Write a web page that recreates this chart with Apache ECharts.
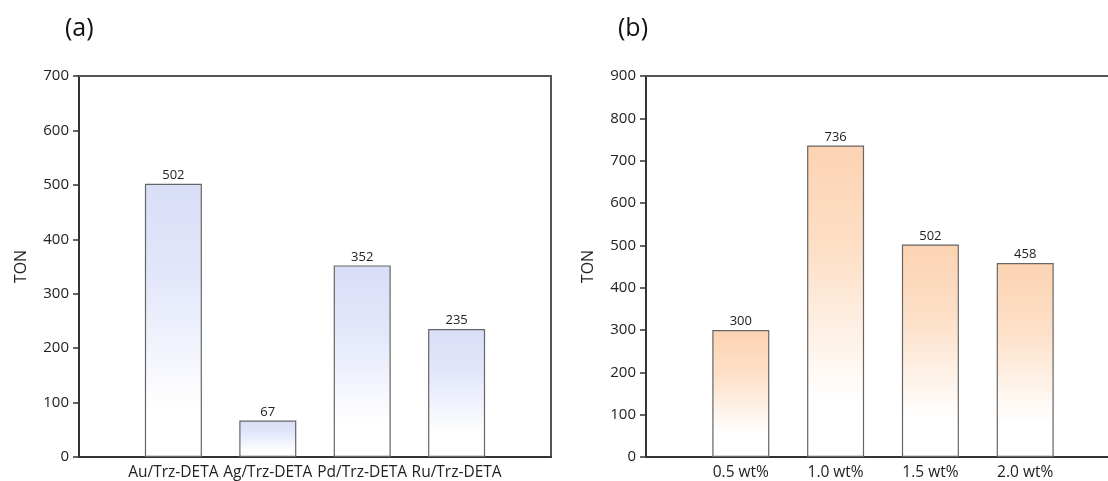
<!DOCTYPE html>
<html>
<head>
<meta charset="utf-8">
<script src="https://cdn.jsdelivr.net/npm/echarts@6/dist/echarts.min.js"></script>
<style>
  html, body { margin: 0; padding: 0; background: #ffffff; overflow: hidden; }
  #chart { width: 1108px; height: 481px; }
</style>
</head>
<body>
<div id="chart"></div>
<script>
// Panel (a): catalysts
const catalysts = ['Au/Trz-DETA', 'Ag/Trz-DETA', 'Pd/Trz-DETA', 'Ru/Trz-DETA'];
const tonCatalysts = [502, 67, 352, 235];

// Panel (b): metal loading
const loadings = ['0.5 wt%', '1.0 wt%', '1.5 wt%', '2.0 wt%'];
const tonLoadings = [300, 736, 502, 458];

// Y-axis ranges
const yAxisA = { min: 0, max: 700, interval: 100 };
const yAxisB = { min: 0, max: 900, interval: 100 };

const FONT = '"Open Sans", "Noto Sans", sans-serif';

const chart = echarts.init(document.getElementById('chart'), null, { renderer: 'canvas' });

function fade(top, mid) {
  return new echarts.graphic.LinearGradient(0, 0, 0, 1, [
    { offset: 0, color: top },
    { offset: 0.35, color: mid },
    { offset: 0.82, color: '#ffffff' },
    { offset: 1, color: '#ffffff' }
  ]);
}

// bars sit at positions 1..n on a 0..n+1 axis
function toPoints(values) {
  return values.map((v, i) => [i + 1, v]);
}

function xAxisFor(gridIndex, names) {
  return {
    gridIndex: gridIndex,
    type: 'value',
    position: 'bottom',
    min: 0,
    max: names.length + 1,
    interval: 1,
    axisLine: { show: true, onZero: false, lineStyle: { color: '#333', width: 2 } },
    axisTick: { show: false },
    splitLine: { show: false },
    axisLabel: {
      margin: 8,
      fontFamily: FONT,
      fontSize: 15.5,
      color: '#222',
      formatter: v => names[v - 1] || ''
    }
  };
}

// frame line along the top of a panel
function topFrame(gridIndex, names) {
  return {
    gridIndex: gridIndex,
    type: 'value',
    position: 'top',
    min: 0,
    max: names.length + 1,
    axisLine: { show: true, onZero: false, lineStyle: { color: '#555', width: 2 } },
    axisTick: { show: false },
    axisLabel: { show: false },
    splitLine: { show: false }
  };
}

function yAxisFor(gridIndex, range) {
  return {
    gridIndex: gridIndex,
    type: 'value',
    position: 'left',
    min: range.min,
    max: range.max,
    interval: range.interval,
    name: 'TON',
    nameLocation: 'middle',
    nameGap: 50,
    nameRotate: 90,
    nameTextStyle: { fontFamily: FONT, fontSize: 16, color: '#222' },
    axisLine: { show: true, onZero: false, lineStyle: { color: '#333', width: 2 } },
    axisTick: { show: true, inside: false, length: 6, lineStyle: { color: '#333', width: 1.5 } },
    splitLine: { show: false },
    axisLabel: { margin: 10, fontFamily: FONT, fontSize: 15, color: '#222' }
  };
}

// frame line along the right side of a panel
function rightFrame(gridIndex, range) {
  return {
    gridIndex: gridIndex,
    type: 'value',
    position: 'right',
    min: range.min,
    max: range.max,
    axisLine: { show: true, onZero: false, lineStyle: { color: '#555', width: 2 } },
    axisTick: { show: false },
    axisLabel: { show: false },
    splitLine: { show: false }
  };
}

function barSeries(index, values, fill) {
  return {
    type: 'bar',
    xAxisIndex: index,
    yAxisIndex: index,
    data: toPoints(values),
    barWidth: 57,
    itemStyle: { color: fill, borderColor: '#666', borderWidth: 1.2 },
    label: {
      show: true,
      position: 'top',
      distance: 2,
      fontFamily: FONT,
      fontSize: 13,
      color: '#222',
      formatter: p => p.value[1]
    },
    emphasis: { disabled: true },
    animation: false
  };
}

chart.setOption({
  animation: false,
  backgroundColor: '#ffffff',
  title: [
    { text: '(a)', left: 60, top: 11, textStyle: { fontFamily: FONT, fontSize: 25, fontWeight: 'normal', color: '#111' } },
    { text: '(b)', left: 613, top: 11, textStyle: { fontFamily: FONT, fontSize: 25, fontWeight: 'normal', color: '#111' } }
  ],
  grid: [
    { left: 79, top: 76, width: 472, height: 381, outerBoundsMode: 'none', containLabel: false, show: false },
    { left: 646, top: 76, width: 474, height: 381, outerBoundsMode: 'none', containLabel: false, show: false }
  ],
  xAxis: [xAxisFor(0, catalysts), xAxisFor(1, loadings), topFrame(0, catalysts), topFrame(1, loadings)],
  yAxis: [yAxisFor(0, yAxisA), yAxisFor(1, yAxisB), rightFrame(0, yAxisA)],
  series: [
    barSeries(0, tonCatalysts, fade('#d9def8', '#e3e7fa')),
    barSeries(1, tonLoadings, fade('#fcd3b2', '#fde0c8'))
  ]
});
</script>
</body>
</html>
